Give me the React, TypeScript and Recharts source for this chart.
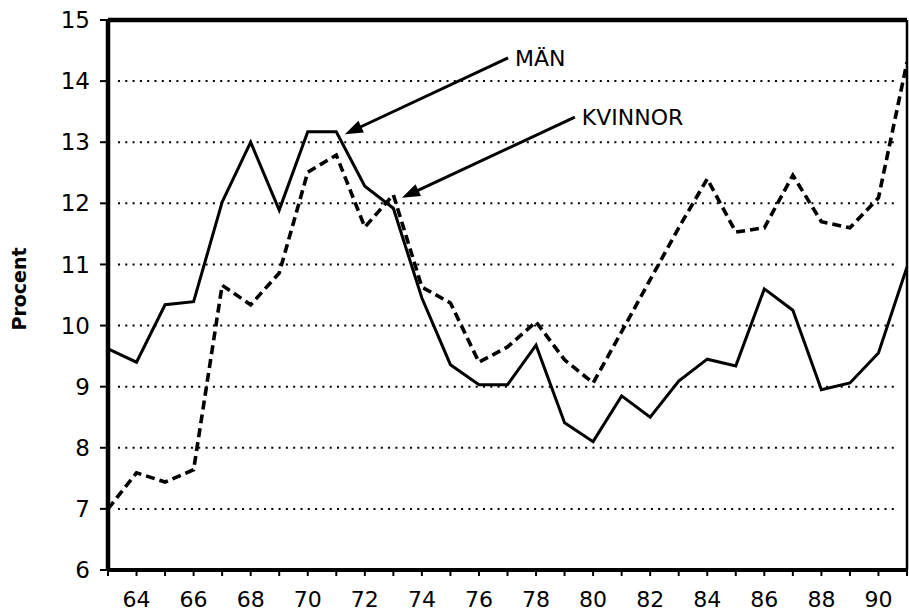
import React from 'react';
import { LineChart, Line, XAxis, YAxis, ReferenceLine } from 'recharts';

const years = [63, 64, 65, 66, 67, 68, 69, 70, 71, 72, 73, 74, 75, 76, 77, 78, 79, 80, 81, 82, 83, 84, 85, 86, 87, 88, 89, 90, 91];
const man = [9.62, 9.4, 10.34, 10.39, 12.02, 13.0, 11.89, 13.17, 13.17, 12.28, 11.92, 10.45, 9.36, 9.03, 9.03, 9.68, 8.41, 8.1, 8.85, 8.5, 9.09, 9.45, 9.34, 10.6, 10.25, 8.95, 9.06, 9.55, 10.96];
const kvinnor = [7.0, 7.59, 7.44, 7.64, 10.66, 10.34, 10.86, 12.51, 12.79, 11.61, 12.14, 10.63, 10.37, 9.4, 9.65, 10.06, 9.44, 9.06, 9.9, 10.75, 11.6, 12.4, 11.53, 11.6, 12.46, 11.7, 11.6, 12.09, 14.31];
const yTicks = [6, 7, 8, 9, 10, 11, 12, 13, 14, 15];
const gridValues = [7, 8, 9, 10, 11, 12, 13, 14];
const labelYears = [64, 66, 68, 70, 72, 74, 76, 78, 80, 82, 84, 86, 88, 90];
const annotationText = ['MÄN', 'KVINNOR'];
const annotationFrom = [{ x: 77.02, y: 14.38 }, { x: 79.36, y: 13.41 }];
const annotationTo = [{ x: 71.3, y: 13.13 }, { x: 73.3, y: 12.09 }];

const data = years.map((yr, i) => ({ year: yr, man: man[i], kvinnor: kvinnor[i] }));

const FONT = 'DejaVu Sans';

function makeArrowShape(text: string) {
  return (props: any) => {
    const { x1, y1, x2, y2 } = props;
    if ([x1, y1, x2, y2].some((v) => typeof v !== 'number' || isNaN(v))) return <g />;
    const dx = x2 - x1;
    const dy = y2 - y1;
    const len = Math.sqrt(dx * dx + dy * dy);
    const ux = dx / len;
    const uy = dy / len;
    const headLen = 18;
    const headW = 6.5;
    const bx = x2 - ux * headLen;
    const by = y2 - uy * headLen;
    const px = -uy;
    const py = ux;
    const pts = `${x2},${y2} ${bx + px * headW},${by + py * headW} ${bx - px * headW},${by - py * headW}`;
    return (
      <g>
        <line x1={x1} y1={y1} x2={bx + ux * 2} y2={by + uy * 2} stroke="#000" strokeWidth={3} />
        <polygon points={pts} fill="#000" />
        <text x={x1 + 7} y={y1 + 8} fontSize={22} fontFamily={FONT} fill="#000" textAnchor="start">
          {text}
        </text>
      </g>
    );
  };
}

const ProcentLabel = (props: any) => {
  const vb = props.viewBox || {};
  const cx = 19;
  const cy = (vb.y ?? 20) + (vb.height ?? 550) / 2 - 6;
  return (
    <text
      x={cx}
      y={cy}
      transform={`rotate(-90, ${cx}, ${cy})`}
      textAnchor="middle"
      dominantBaseline="central"
      fontSize={19}
      fontWeight="bold"
      fontFamily={FONT}
      fill="#000"
    >
      Procent
    </text>
  );
};

export default function App() {
  return (
    <div style={{ position: 'absolute', left: 0, top: 0, width: 909, height: 612, background: '#fff' }}>
      <LineChart width={909} height={612} data={data} margin={{ top: 20, right: 2, left: 0, bottom: 0 }}>
        <XAxis
          dataKey="year"
          type="number"
          domain={[63, 91]}
          ticks={years}
          interval={0}
          height={42}
          tickFormatter={(v: number) => (labelYears.includes(v) ? String(v) : '')}
          tick={{ fontSize: 22, fill: '#000', fontFamily: FONT }}
          tickSize={6}
          tickMargin={15}
          axisLine={{ stroke: '#000', strokeWidth: 4 }}
          tickLine={{ stroke: '#000', strokeWidth: 2 }}
          allowDataOverflow
        />
        <YAxis
          type="number"
          domain={[6, 15]}
          ticks={yTicks}
          interval={0}
          width={108}
          tick={{ fontSize: 23, fill: '#000', fontFamily: FONT }}
          tickSize={8}
          tickMargin={10}
          axisLine={{ stroke: '#000', strokeWidth: 4.5 }}
          tickLine={{ stroke: '#000', strokeWidth: 2 }}
          label={<ProcentLabel />}
          allowDataOverflow
        />
        {gridValues.map((g) => (
          <ReferenceLine
            key={'g' + g}
            segment={[{ x: 63.35, y: g }, { x: 90.7, y: g }]}
            stroke="#000"
            strokeWidth={2}
            strokeDasharray="2 5.3"
            ifOverflow="visible"
          />
        ))}
        <ReferenceLine y={15} stroke="#000" strokeWidth={4.5} ifOverflow="visible" />
        <ReferenceLine x={91} stroke="#000" strokeWidth={2.5} ifOverflow="visible" />
        <Line
          type="linear"
          dataKey="man"
          stroke="#000"
          strokeWidth={3}
          dot={false}
          isAnimationActive={false}
        />
        <Line
          type="linear"
          dataKey="kvinnor"
          stroke="#000"
          strokeWidth={3.6}
          strokeDasharray="9 5"
          dot={false}
          isAnimationActive={false}
        />
        {annotationText.map((t, i) => (
          <ReferenceLine
            key={'a' + i}
            segment={[annotationFrom[i], annotationTo[i]]}
            stroke="#000"
            ifOverflow="visible"
            shape={makeArrowShape(t)}
          />
        ))}
      </LineChart>
    </div>
  );
}
